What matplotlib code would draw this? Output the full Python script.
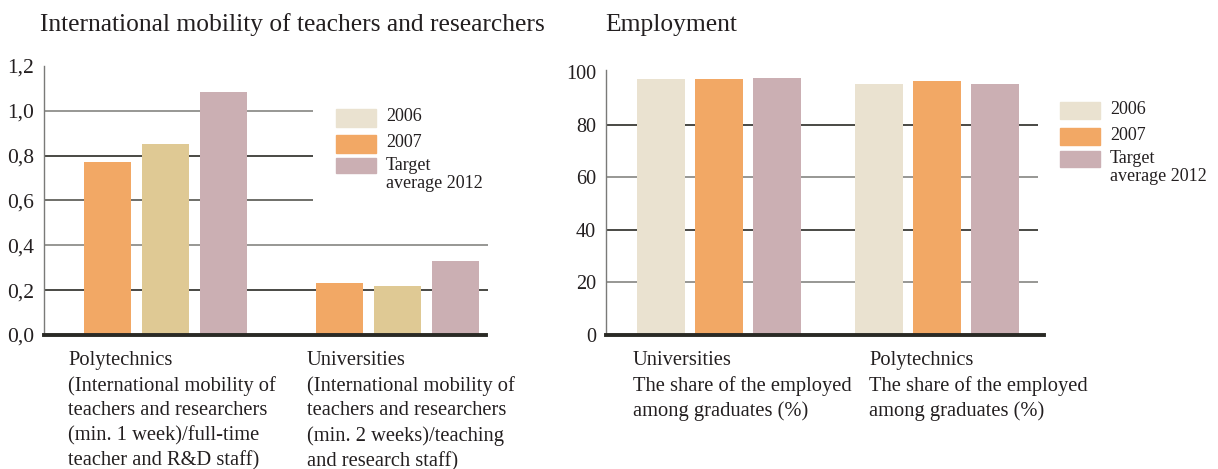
import matplotlib
matplotlib.use("Agg")
import matplotlib.pyplot as plt
from matplotlib.patches import Rectangle

plt.rcParams['font.family'] = ['Liberation Serif', 'DejaVu Serif']

# mobility of teachers and researchers (left chart)
mob_groups = ["Polytechnics\n(International mobility of\nteachers and researchers\n(min. 1 week)/full-time\nteacher and R&D staff)",
              "Universities\n(International mobility of\nteachers and researchers\n(min. 2 weeks)/teaching\nand research staff)"]
mob_2007 = [0.77, 0.23]
mob_2006 = [0.85, 0.22]
mob_target = [1.085, 0.33]
mob_ticks = [0.0, 0.2, 0.4, 0.6, 0.8, 1.0, 1.2]
mob_ticklabels = ["0,0", "0,2", "0,4", "0,6", "0,8", "1,0", "1,2"]

# employment of graduates (right chart)
emp_groups = ["Universities\nThe share of the employed\namong graduates (%)",
              "Polytechnics\nThe share of the employed\namong graduates (%)"]
emp_2006 = [97.3, 95.4]
emp_2007 = [97.3, 96.6]
emp_target = [97.8, 95.4]
emp_ticks = [0, 20, 40, 60, 80, 100]

legend_labels = ["2006", "2007", "Target\naverage 2012"]

CREAM = "#eae2d0"
ORANGE = "#f2a865"
PINK = "#cbafb3"
TAN = "#dfc994"
DARK = "#2a2a25"
GRAY = "#858582"
TXT = "#231f20"

W, H = 1218, 469
fig = plt.figure(figsize=(W / 100, H / 100), dpi=100)


def px_axes(x0, x1, ytop, ybot):
    return fig.add_axes([x0 / W, 1 - ybot / H, (x1 - x0) / W, (ybot - ytop) / H])


def style(ax, tsize):
    for s in ["top", "right"]:
        ax.spines[s].set_visible(False)
    ax.spines["left"].set_color("#7a7a78")
    ax.spines["left"].set_linewidth(1.0)
    ax.spines["bottom"].set_color(DARK)
    ax.spines["bottom"].set_linewidth(2.8)
    ax.spines["bottom"].set_zorder(5)
    ax.tick_params(axis="y", length=0, pad=7, labelsize=tsize, labelcolor=TXT)
    ax.set_xticks([])


# ---- left chart ----
ax1 = px_axes(44, 486, 66, 335)
style(ax1, 15.5)
w = 0.81
g1 = [0, 4]
ax1.bar([g - 1 for g in g1], mob_2007, w, color=ORANGE, zorder=3)
ax1.bar(g1, mob_2006, w, color=TAN, zorder=3)
ax1.bar([g + 1 for g in g1], mob_target, w, color=PINK, zorder=3)
ax1.set_xlim(-2.095, 5.525)
ax1.set_ylim(0, 1.2)
ax1.set_yticks(mob_ticks)
ax1.set_yticklabels(mob_ticklabels)
grid_cols = {0.2: DARK, 0.4: GRAY, 0.6: "#55554f", 0.8: DARK, 1.0: GRAY}
for yv, c in grid_cols.items():
    xend = 2.534 if yv > 0.5 else 5.56
    ax1.hlines(yv, -2.095, xend, color=c, lw=1.2, zorder=1, clip_on=False)

# ---- right chart ----
ax2 = px_axes(605.7, 1044, 70, 334.5)
style(ax2, 14.5)
g2 = [0, 3.77]
ax2.bar([g - 1 for g in g2], emp_2006, 0.83, color=CREAM, zorder=3)
ax2.bar(g2, emp_2007, 0.83, color=ORANGE, zorder=3)
ax2.bar([g + 1 for g in g2], emp_target, 0.83, color=PINK, zorder=3)
ax2.set_xlim(-1.948, 5.61)
ax2.set_ylim(0, 100.8)
ax2.set_yticks(emp_ticks)
for i, yv in enumerate(emp_ticks[1:-1]):
    ax2.hlines(yv, -1.948, 5.5, color=GRAY if i % 2 == 0 else DARK, lw=1.2, zorder=1)

# titles
fig.text(40 / W, 1 - 25 / H, "International mobility of teachers and researchers",
         fontsize=18.4, color=TXT, va="center", ha="left")
fig.text(605 / W, 1 - 25 / H, "Employment", fontsize=18.4, color=TXT, va="center", ha="left")

# legends
def legend(x, ys, texts):
    for (y0, y1), t in zip(ys, texts):
        fig.add_artist(Rectangle((x / W, 1 - y1 / H), 40 / W, (y1 - y0) / H,
                                 color=[CREAM, ORANGE, PINK][texts.index(t)],
                                 transform=fig.transFigure))
        fig.text((x + 50) / W, 1 - (y0 - 1) / H, t, fontsize=13, color=TXT,
                 va="top", ha="left", linespacing=1.05)


legend(336, [(109, 127), (135, 153), (158, 173)], legend_labels)
legend(1060, [(102, 119), (128, 145), (151, 167)], legend_labels)

# category labels
for xpx, t in zip([68, 307], mob_groups):
    fig.text(xpx / W, 1 - 351 / H, t, fontsize=14.8, color=TXT, va="top", ha="left", linespacing=1.4)
for xpx, t in zip([633, 869], emp_groups):
    fig.text(xpx / W, 1 - 351 / H, t, fontsize=14.8, color=TXT, va="top", ha="left", linespacing=1.4)

fig.savefig("out.png", dpi=100)
